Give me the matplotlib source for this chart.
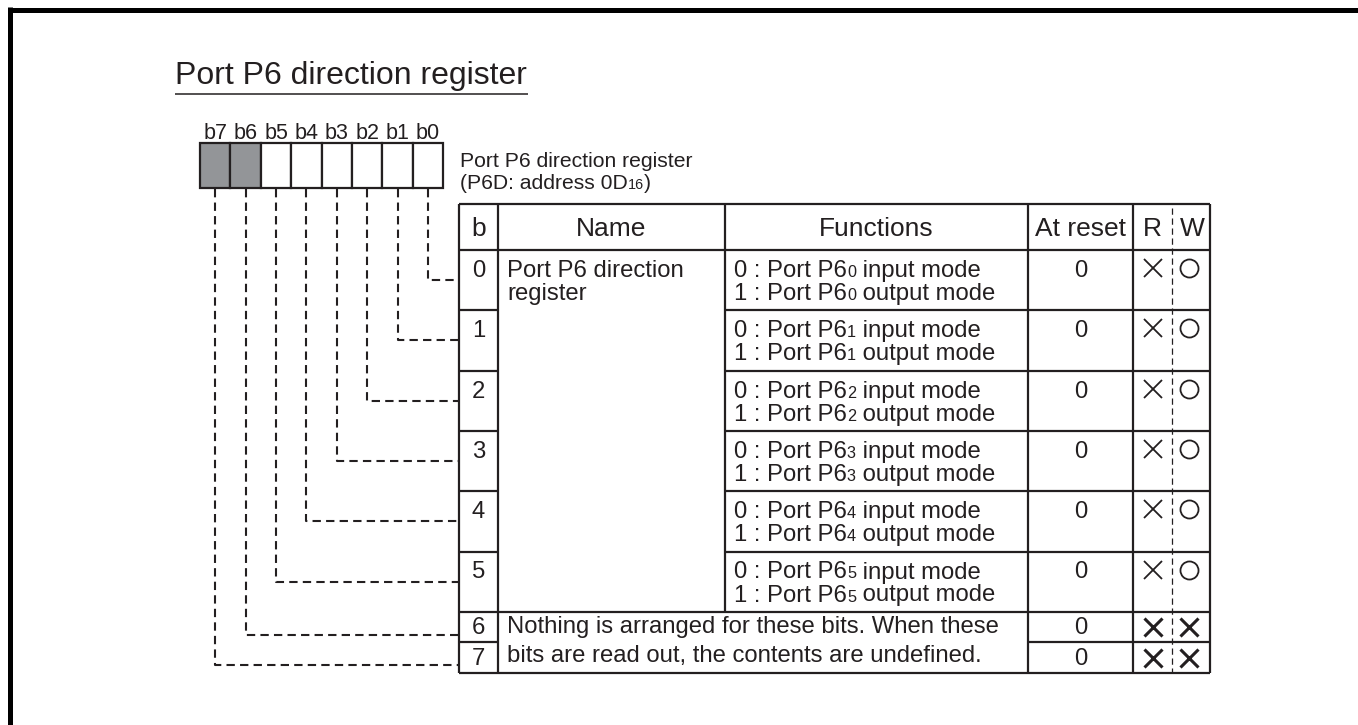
import matplotlib
matplotlib.use("Agg")
import matplotlib.pyplot as plt
from matplotlib.patches import Rectangle

plt.rcParams["font.family"] = ["Liberation Sans", "DejaVu Sans"]

INK = "#231f20"
SHADE = "#939598"

# --- content ---
TITLE = "Port P6 direction register"
REG_NAME = "Port P6 direction register"
REG_ADDR = ["(P6D: address 0D", "16", ")"]
BIT_LABELS = ["b7", "b6", "b5", "b4", "b3", "b2", "b1", "b0"]
BIT_SHADED = [True, True, False, False, False, False, False, False]
HEADERS = ["b", "Name", "Functions", "At reset", "R", "W"]
ROW_BITS = ["0", "1", "2", "3", "4", "5", "6", "7"]
NAME_LINES = ["Port P6 direction", "register"]
FUNC_PORT = "P6"
FUNC_MODES = ["input mode", "output mode"]
RESERVED_LINES = [
    "Nothing is arranged for these bits. When these",
    "bits are read out, the contents are undefined.",
]
RESET_VALUES = ["0", "0", "0", "0", "0", "0", "0", "0"]
READ_ACCESS = ["x", "x", "x", "x", "x", "x", "x", "x"]
WRITE_ACCESS = ["o", "o", "o", "o", "o", "o", "x", "x"]

# --- layout (pixels) ---
W, H = 1358, 725
COLS = [459, 498, 725, 1028, 1133, 1210]
RW_SPLIT = 1172
TABLE_TOP, HEAD_BOT = 204, 250
ROW_H, SMALL_H = 60.3, 30.5
BOX_X0, BOX_W, BOX_Y0, BOX_Y1 = 200, 30.4, 143, 188

PT = 72 / 100  # px -> pt at 100 dpi

fig = plt.figure(figsize=(W / 100, H / 100), dpi=100)
ax = fig.add_axes([0, 0, 1, 1])
ax.set_xlim(0, W)
ax.set_ylim(H, 0)
ax.axis("off")
renderer = fig.canvas.get_renderer()


def runs(x, y, pieces, size):
    # pieces: list of (text, is_subscript)
    for txt, sub in pieces:
        fs = size * 0.68 if sub else size
        t = ax.text(x, y, txt, fontsize=fs, color=INK, va="baseline", ha="left")
        x += t.get_window_extent(renderer).width


def hline(y, x0, x1, lw=1.6):
    ax.plot([x0, x1], [y, y], color=INK, lw=lw, solid_capstyle="butt")


def vline(x, y0, y1, lw=1.6):
    ax.plot([x, x], [y0, y1], color=INK, lw=lw, solid_capstyle="butt")


# page frame (top and left edge)
ax.plot([9.5, W], [9.5, 9.5], color="black", lw=5 * PT, solid_capstyle="butt")
ax.plot([9.5, 9.5], [7, H], color="black", lw=5 * PT, solid_capstyle="butt")

# title
ax.text(175, 84, TITLE, fontsize=23, color=INK, va="baseline")
hline(94, 175, 528, lw=1.1)

# register boxes
for j, (lab, sh) in enumerate(zip(BIT_LABELS, BIT_SHADED)):
    x0 = BOX_X0 + j * BOX_W
    ax.add_patch(Rectangle((x0, BOX_Y0), BOX_W, BOX_Y1 - BOX_Y0,
                           facecolor=SHADE if sh else "white",
                           edgecolor=INK, lw=1.6))
    ax.text(x0 + BOX_W / 2, 139, lab, fontsize=15.5, color=INK,
            ha="center", va="baseline")

ax.text(COLS[0] + 1, 167, REG_NAME, fontsize=15.2, color=INK, va="baseline")
runs(COLS[0] + 1, 189, [(REG_ADDR[0], False), (REG_ADDR[1], True), (REG_ADDR[2], False)], 15.2)

# row geometry
row_tops = [HEAD_BOT + i * ROW_H for i in range(6)]
row_tops += [row_tops[-1] + ROW_H, row_tops[-1] + ROW_H + SMALL_H]
row_bots = [t + ROW_H for t in row_tops[:6]] + [row_tops[7], row_tops[7] + SMALL_H]
TABLE_BOT = row_bots[-1]

# header
hx = [(COLS[0] + COLS[1]) / 2, (COLS[1] + COLS[2]) / 2, (COLS[2] + COLS[3]) / 2,
      (COLS[3] + COLS[4]) / 2, (COLS[4] + RW_SPLIT) / 2, (RW_SPLIT + COLS[5]) / 2 + 1]
for x, h in zip(hx, HEADERS):
    ax.text(x, 236, h, fontsize=19, color=INK, ha="center", va="baseline")

# grid lines
hline(TABLE_TOP, COLS[0], COLS[5])
hline(HEAD_BOT, COLS[0], COLS[5])
for i in range(5):
    hline(row_bots[i], COLS[0], COLS[1])
    hline(row_bots[i], COLS[2], COLS[5])
hline(row_bots[5], COLS[0], COLS[5])
hline(row_bots[6], COLS[0], COLS[1])
hline(row_bots[6], COLS[3], COLS[5])
hline(TABLE_BOT, COLS[0], COLS[5])
for c in (COLS[0], COLS[1], COLS[3], COLS[4], COLS[5]):
    vline(c, TABLE_TOP, TABLE_BOT)
vline(COLS[2], TABLE_TOP, row_bots[5])
ax.plot([RW_SPLIT, RW_SPLIT], [TABLE_TOP + 4, TABLE_BOT], color=INK, lw=0.9,
        linestyle=(0, (5, 3)))

# rows
FS = 17.2
for i, bit in enumerate(ROW_BITS):
    top, bot = row_tops[i], row_bots[i]
    big = i < 6
    y1 = top + 27 if big else (top + bot) / 2 + 7
    ax.text((COLS[0] + COLS[1]) / 2, y1, bit, fontsize=FS, color=INK,
            ha="center", va="baseline")
    ax.text((COLS[3] + COLS[4]) / 2, y1, RESET_VALUES[i], fontsize=FS, color=INK,
            ha="center", va="baseline")
    if big:
        for k, (lead, mode) in enumerate(zip(["0", "1"], FUNC_MODES)):
            runs(COLS[2] + 9, y1 + 23 * k,
                 [(f"{lead} : Port {FUNC_PORT}", False), (bit, True), (" " + mode, False)], FS)
    # access marks
    my = top + 18 if big else (top + bot) / 2
    for acc, mx in ((READ_ACCESS[i], 1153), (WRITE_ACCESS[i], 1189)):
        if acc == "x":
            ax.plot(mx, my, marker="x", ms=12.5, mew=1.3 if big else 2.2, color=INK)
        else:
            ax.plot(mx, my, marker="o", ms=13, mew=1.3, mfc="none", mec=INK)
    # dashed connector from the register box
    bx = BOX_X0 + (7 - i + 0.5) * BOX_W
    cy = (top + bot) / 2 if big else top + 23
    ax.plot([bx, bx, COLS[0]], [BOX_Y1 + 1, cy, cy], color=INK, lw=1.5,
            linestyle=(0, (4, 2.5)))

for k, line in enumerate(NAME_LINES):
    ax.text(COLS[1] + 9, row_tops[0] + 27 + 23 * k, line, fontsize=FS, color=INK,
            va="baseline")
for k, line in enumerate(RESERVED_LINES):
    ax.text(COLS[1] + 9, row_tops[6] + 21 + 29 * k, line, fontsize=FS, color=INK,
            va="baseline")

fig.savefig("out.png", dpi=100, facecolor="white")
